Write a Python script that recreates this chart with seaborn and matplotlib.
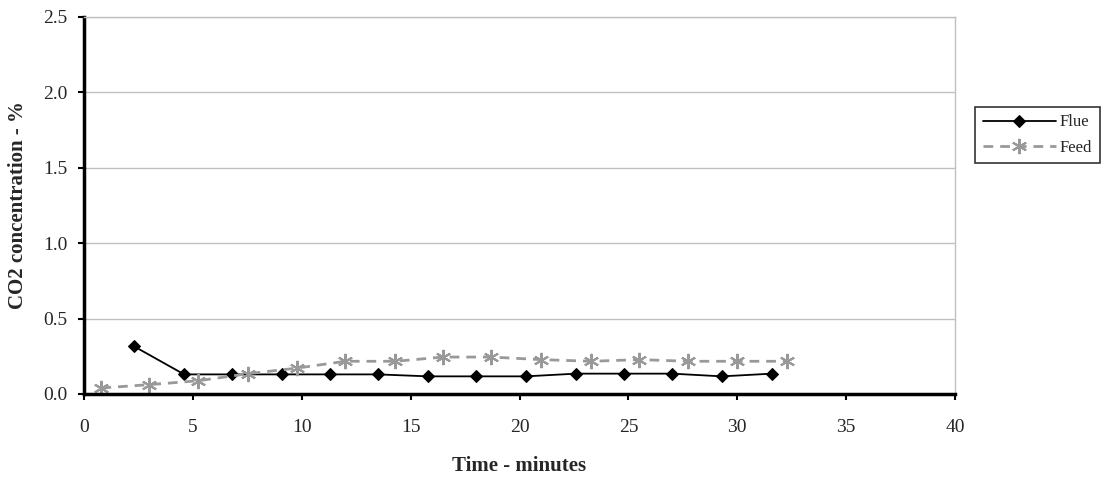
import matplotlib
matplotlib.use("Agg")
import matplotlib.pyplot as plt
import seaborn as sns
import pandas as pd

flue_time = [2.3, 4.6, 6.8, 9.1, 11.3, 13.5, 15.8, 18.0, 20.3, 22.6, 24.8, 27.0, 29.3, 31.6]
flue_co2 = [0.316, 0.13, 0.13, 0.13, 0.13, 0.13, 0.117, 0.117, 0.117, 0.135, 0.135, 0.135, 0.117, 0.135]
feed_time = [0.8, 3.0, 5.25, 7.55, 9.8, 12.0, 14.3, 16.5, 18.7, 21.0, 23.3, 25.5, 27.75, 30.0, 32.3]
feed_co2 = [0.04, 0.062, 0.088, 0.135, 0.172, 0.217, 0.217, 0.245, 0.245, 0.228, 0.217, 0.228, 0.217, 0.217, 0.217]

sns.set_theme(style="white")
plt.rcParams['font.family'] = ['Liberation Serif', 'DejaVu Serif']

W, H = 1107, 479
fig = plt.figure(figsize=(W / 100, H / 100), dpi=100)
ax = fig.add_axes([84 / W, 1 - 394 / H, (955 - 84) / W, (394 - 17) / H])

df_flue = pd.DataFrame({"t": flue_time, "c": flue_co2})
df_feed = pd.DataFrame({"t": feed_time, "c": feed_co2})

sns.lineplot(data=df_flue, x="t", y="c", ax=ax, color="black", lw=1.3,
             marker="D", markersize=6.5, markeredgecolor="black", label="Flue")
sns.lineplot(data=df_feed, x="t", y="c", ax=ax, color="#999999", lw=2.0,
             linestyle=(0, (3.5, 2.5)), marker=(6, 2, 0), markersize=11,
             markeredgecolor="#999999", markeredgewidth=1.5, label="Feed")

ax.set_xlim(0, 40)
ax.set_ylim(0, 2.5)
ax.set_xticks(range(0, 41, 5))
ax.set_yticks([0, 0.5, 1.0, 1.5, 2.0, 2.5])
ax.set_yticklabels(["0.0", "0.5", "1.0", "1.5", "2.0", "2.5"])
ax.yaxis.grid(True, color="#c0c0c0", lw=1)
ax.set_axisbelow(True)

for s in ["left", "bottom"]:
    ax.spines[s].set_color("black")
    ax.spines[s].set_linewidth(2.5)
for s in ["top", "right"]:
    ax.spines[s].set_color("#c0c0c0")
    ax.spines[s].set_linewidth(1)

ax.tick_params(axis="both", direction="out", length=4, width=1.5, color="black",
               labelsize=14, bottom=True, left=True)
ax.tick_params(axis="y", pad=8)
ax.tick_params(axis="x", pad=14)

ax.set_xlabel("Time - minutes", fontsize=15, fontweight="bold")
ax.set_ylabel("CO2 concentration - %", fontsize=15, fontweight="bold")
ax.xaxis.set_label_coords(((84 + 955) / 2) / W, 1 - 466 / H, transform=fig.transFigure)
ax.yaxis.set_label_coords(18 / W, 1 - ((17 + 394) / 2) / H, transform=fig.transFigure)
ax.xaxis.label.set_va("center")
ax.yaxis.label.set_va("center")

leg = ax.legend(loc="center left", bbox_to_anchor=(975 / W, 1 - 135 / H),
                bbox_transform=fig.transFigure, frameon=True, fancybox=False,
                fontsize=12, handlelength=4.4, borderpad=0.45, labelspacing=0.55,
                handletextpad=0.25, borderaxespad=0)
leg.get_frame().set_edgecolor("black")
leg.get_frame().set_linewidth(1.2)

fig.savefig("out.png", dpi=100)
